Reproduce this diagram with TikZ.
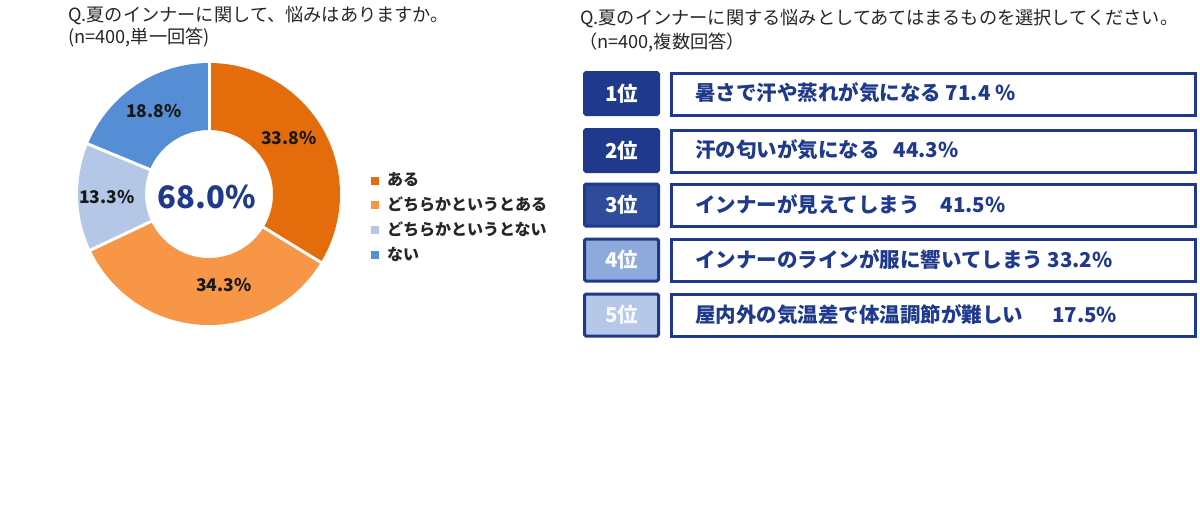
\documentclass[tikz,border=0pt]{standalone}
\usepackage{fontspec}
\setmainfont{Noto Sans CJK JP}
\usetikzlibrary{calc}
\definecolor{cA}{HTML}{E46C0A}
\definecolor{cB}{HTML}{F79646}
\definecolor{cC}{HTML}{B4C7E7}
\definecolor{cD}{HTML}{558ED5}
\definecolor{navy}{HTML}{1F3A8C}
\definecolor{rank3}{HTML}{2F4C9C}
\definecolor{rank4}{HTML}{8EA9DB}
\definecolor{rank5}{HTML}{B6C8E8}
\tikzset{
  title/.style={anchor=west,inner sep=0pt,font=\fontsize{18.2}{20}\selectfont,text=black!85},
  pct/.style={inner sep=0pt,font=\bfseries\fontsize{17.5}{19}\selectfont,text=black!90},
  legtxt/.style={anchor=west,inner sep=0pt,font=\bfseries\fontsize{16}{18}\selectfont,text=black!85},
  legsq/.style={minimum size=8pt,inner sep=0pt},
  rankbox/.style={draw=navy,line width=3pt,rounded corners=1.5pt,minimum width=74pt,minimum height=42pt,inner sep=0pt,font=\bfseries\fontsize{20.5}{22}\selectfont,text=white},
  itembox/.style={draw=navy,line width=3pt,fill=white,minimum width=524pt,minimum height=42pt,inner sep=0pt},
  itemtxt/.style={anchor=west,inner sep=0pt,font=\bfseries\fontsize{20.5}{22}\selectfont,text=navy}
}
\begin{document}
\begin{tikzpicture}[x=1pt,y=-1pt]
\useasboundingbox (0,0) rectangle (1200,506);
\fill[white] (0,0) rectangle (1200,506);
% ---- left title
\node[title] (lt1) at (68,16) {Q.夏のインナーに関して、悩みはありますか。};
\node[title] (lt2) at (68,38) {(n=400,単一回答)};
% ---- donut
\coordinate (c) at (209,194);
\def\Ro{131}\def\Ri{64}
\fill[cA] ($(c)+(-90:\Ro)$) arc[start angle=-90,end angle=31.44,radius=\Ro] -- ($(c)+(31.44:\Ri)$) arc[start angle=31.44,end angle=-90,radius=\Ri] -- cycle;
\fill[cB] ($(c)+(31.44:\Ro)$) arc[start angle=31.44,end angle=154.67,radius=\Ro] -- ($(c)+(154.67:\Ri)$) arc[start angle=154.67,end angle=31.44,radius=\Ri] -- cycle;
\fill[cC] ($(c)+(154.67:\Ro)$) arc[start angle=154.67,end angle=202.46,radius=\Ro] -- ($(c)+(202.46:\Ri)$) arc[start angle=202.46,end angle=154.67,radius=\Ri] -- cycle;
\fill[cD] ($(c)+(202.46:\Ro)$) arc[start angle=202.46,end angle=270,radius=\Ro] -- ($(c)+(270:\Ri)$) arc[start angle=270,end angle=202.46,radius=\Ri] -- cycle;
\foreach \a in {-90,31.44,154.67,202.46}
  \draw[white,line width=3pt] ($(c)+(\a:\Ri-2)$) -- ($(c)+(\a:\Ro+2)$);
\node[pct] (p1) at (289,138) {33.8\%};
\node[pct] (p2) at (224,285) {34.3\%};
\node[pct] (p3) at (107,197) {13.3\%};
\node[pct] (p4) at (154,111) {18.8\%};
\node[inner sep=0pt,font=\bfseries\fontsize{31}{34}\selectfont,text=navy] (ctr) at (207,197) {68.0\%};
% ---- legend
\node[legsq,fill=cA] (s1) at (375,181) {};
\node[legtxt] (l1) at (387,180) {ある};
\node[legsq,fill=cB] (s2) at (375,205) {};
\node[legtxt] (l2) at (387,204) {どちらかというとある};
\node[legsq,fill=cC] (s3) at (375,230) {};
\node[legtxt] (l3) at (387,229) {どちらかというとない};
\node[legsq,fill=cD] (s4) at (375,255) {};
\node[legtxt] (l4) at (387,254) {ない};
% ---- right title
\node[title] (rt1) at (580,19) {Q.夏のインナーに関する悩みとしてあてはまるものを選択してください。};
\node[title] (rt2) at (579,42) {（n=400,複数回答）};
% ---- ranking
\node[rankbox,fill=navy] (r1) at (621.5,93.5) {1位};
\node[rankbox,fill=navy] (r2) at (621.5,150.5) {2位};
\node[rankbox,fill=rank3] (r3) at (621.5,205) {3位};
\node[rankbox,fill=rank4,text=white!95!rank4] (r4) at (621.5,260) {4位};
\node[rankbox,fill=rank5,text=white!90!rank5] (r5) at (621.5,315) {5位};
\node[itembox] (b1) at (933.5,94) {};
\node[itembox] (b2) at (933.5,151) {};
\node[itembox] (b3) at (933.5,205.5) {};
\node[itembox] (b4) at (933.5,260.5) {};
\node[itembox] (b5) at (933.5,315.5) {};
\node[itemtxt] (t1) at (695,93) {暑さで汗や蒸れが気になる 71.4 \%};
\node[itemtxt] (t2) at (695,150) {汗の匂いが気になる\hspace{14pt}44.3\%};
\node[itemtxt] (t3) at (695,205) {インナーが見えてしまう\hspace{21pt}41.5\%};
\node[itemtxt] (t4) at (695,260) {インナーのラインが服に響いてしまう 33.2\%};
\node[itemtxt] (t5) at (695,315) {屋内外の気温差で体温調節が難しい\hspace{29pt}17.5\%};
\end{tikzpicture}
\end{document}
